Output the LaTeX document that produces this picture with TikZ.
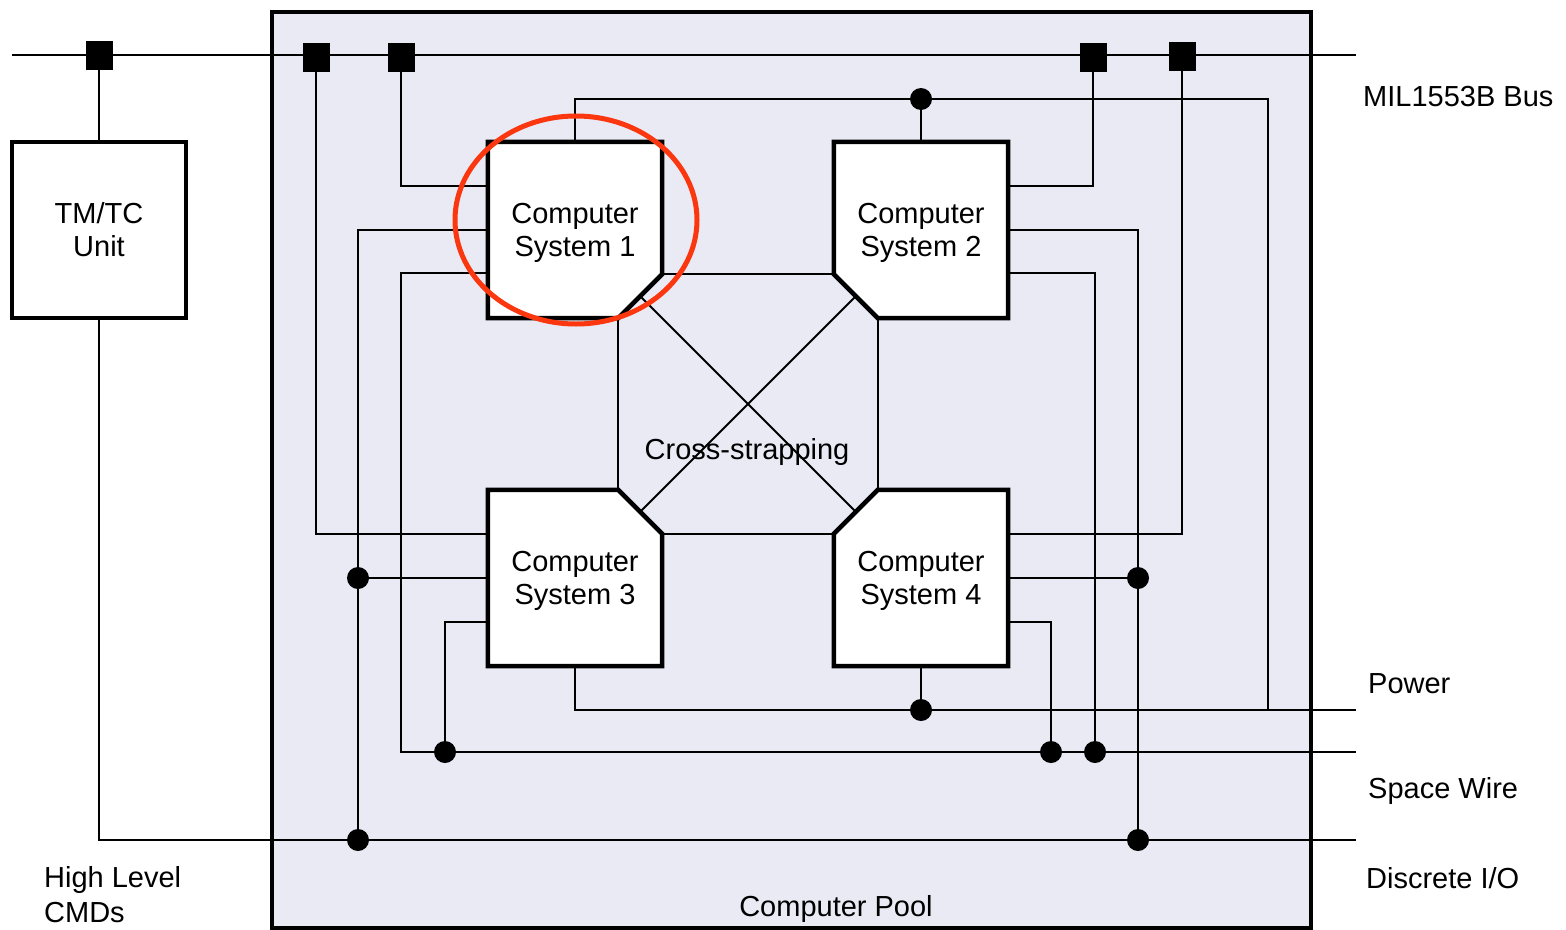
\documentclass[tikz,border=0pt]{standalone}
\usepackage{fontspec}
\setmainfont{Liberation Sans}
\usetikzlibrary{calc}
\definecolor{poolfill}{RGB}{234,234,245}
\definecolor{hlred}{RGB}{250,55,15}
\begin{document}
\begin{tikzpicture}[x=1pt,y=-1pt,
  wire/.style={line width=2pt, line join=miter, line cap=butt},
  busblock/.style={fill=black, minimum width=27pt, minimum height=29pt, inner sep=0pt},
  junction/.style={circle, fill=black, minimum size=22pt, inner sep=0pt},
  bigfont/.style={font=\fontsize{29}{33}\selectfont},
  unitbox/.style={draw, line width=4pt, fill=white, minimum width=174pt, minimum height=176pt, inner sep=0pt, align=center, bigfont},
  csframe/.style={minimum width=174pt, minimum height=176pt, inner sep=0pt},
  csoutline/.style={draw, fill=white, line width=4.5pt, line join=miter},
  cstext/.style={inner sep=0pt, align=center, bigfont},
  lbl/.style={anchor=base west, inner sep=0pt, bigfont}]

\fill[white] (0,0) rectangle (1566,929);
\useasboundingbox (0,0) rectangle (1566,929);

% computer pool
\node[draw, line width=4pt, fill=poolfill, minimum width=1039pt, minimum height=916pt, inner sep=0pt] (pool) at (791.5,470) {};

% TM/TC unit
\node[unitbox] (tmtc) at (99,230) {TM/TC\\Unit};

% computer system frames (anchors only)
\node[csframe] (cs1) at (575,230) {};
\node[csframe] (cs2) at (921,230) {};
\node[csframe] (cs3) at (575,578) {};
\node[csframe] (cs4) at (921,578) {};

% bus blocks
\node[busblock] (sqA) at (99,55) {};
\node[busblock] (sqB) at (316,57) {};
\node[busblock] (sqC) at (401,57) {};
\node[busblock] (sqD) at (1093,57) {};
\node[busblock] (sqE) at (1182,56) {};

% junctions
\node[junction] (pw1) at (921,99) {};
\node[junction] (pw2) at (921,710) {};
\node[junction] (sw1) at (445,752) {};
\node[junction] (sw2) at (1051,752) {};
\node[junction] (sw3) at (1095,752) {};
\node[junction] (dm1) at (358,578) {};
\node[junction] (dm2) at (1138,578) {};
\node[junction] (dd1) at (358,840) {};
\node[junction] (dd2) at (1138,840) {};

% free ends
\coordinate (busL) at (12,55);
\coordinate (busR) at (1356,55);
\coordinate (pwTR) at (1268,99);
\coordinate (pwEnd) at (1356,710);
\coordinate (swL) at (401,752);
\coordinate (swEnd) at (1356,752);
\coordinate (dioEnd) at (1356,840);

% MIL1553B bus
\draw[wire] (busL) -- (busR);
\draw[wire] (tmtc.north) -- (tmtc.north |- sqA);
\draw[wire] (sqC) |- ($(cs1.west)+(0,-44)$);
\draw[wire] (sqB) |- ($(cs3.west)+(0,-44)$);
\draw[wire] (sqD) |- ($(cs2.east)+(0,-44)$);
\draw[wire] (sqE) |- ($(cs4.east)+(0,-44)$);

% power
\draw[wire] (cs1.north) |- (pwTR) |- (pwEnd);
\draw[wire] (cs3.south) |- (pwEnd);
\draw[wire] (cs2.north) -- (pw1);
\draw[wire] (cs4.south) -- (pw2);

% space wire
\draw[wire] ($(cs1.west)+(0,43)$) -| (swL) -- (swEnd);
\draw[wire] ($(cs3.west)+(0,44)$) -| (sw1);
\draw[wire] ($(cs4.east)+(0,44)$) -| (sw2);
\draw[wire] ($(cs2.east)+(0,43)$) -| (sw3);

% discrete I/O
\draw[wire] (tmtc.south) |- (dioEnd);
\draw[wire] (cs1.west) -| (dd1);
\draw[wire] (cs3.west) -- (dm1);
\draw[wire] (cs2.east) -| (dd2);
\draw[wire] (cs4.east) -- (dm2);

% cross-strapping
\draw[wire] ($(cs1.south east)+(0,-44)$) -- ($(cs2.south west)+(0,-44)$);
\draw[wire] ($(cs2.south west)+(44,0)$) -- ($(cs4.north west)+(44,0)$);
\draw[wire] ($(cs3.north east)+(0,44)$) -- ($(cs4.north west)+(0,44)$);
\draw[wire] ($(cs1.south east)+(-44,0)$) -- ($(cs3.north east)+(-44,0)$);
\draw[wire] ($(cs1.south east)+(-22,-22)$) -- ($(cs4.north west)+(22,22)$);
\draw[wire] ($(cs2.south west)+(22,-22)$) -- ($(cs3.north east)+(-22,22)$);

% computer system outlines
\path[csoutline] (cs1.north west) -- (cs1.north east) -- ($(cs1.south east)+(0,-44)$) -- ($(cs1.south east)+(-44,0)$) -- (cs1.south west) -- cycle;
\path[csoutline] (cs2.north west) -- (cs2.north east) -- (cs2.south east) -- ($(cs2.south west)+(44,0)$) -- ($(cs2.south west)+(0,-44)$) -- cycle;
\path[csoutline] (cs3.north west) -- ($(cs3.north east)+(-44,0)$) -- ($(cs3.north east)+(0,44)$) -- (cs3.south east) -- (cs3.south west) -- cycle;
\path[csoutline] ($(cs4.north west)+(44,0)$) -- (cs4.north east) -- (cs4.south east) -- (cs4.south west) -- ($(cs4.north west)+(0,44)$) -- cycle;

\node[cstext] (cs1t) at ($(cs1)+(0,3)$) {Computer\\System 1};
\node[cstext] (cs2t) at ($(cs2)+(0,3)$) {Computer\\System 2};
\node[cstext] (cs3t) at ($(cs3)+(0,3)$) {Computer\\System 3};
\node[cstext] (cs4t) at ($(cs4)+(0,3)$) {Computer\\System 4};

\node[inner sep=0pt, bigfont] (xs) at (747,452) {Cross-strapping};

% labels
\node[lbl] (lmil) at (1363,106) {MIL1553B Bus};
\node[lbl] (lpow) at (1368,693) {Power};
\node[lbl] (lsw) at (1368,798) {Space Wire};
\node[lbl] (ldio) at (1366,888) {Discrete I/O};
\node[lbl] (lhl) at (44,887) {High Level};
\node[lbl] (lcmd) at (44,922) {CMDs};
\node[anchor=base, inner sep=0pt, bigfont] (lpool) at (836,916) {Computer Pool};

% highlight
\draw[hlred, line width=5pt] (576,220) ellipse [x radius=121pt, y radius=104pt];
\end{tikzpicture}
\end{document}
